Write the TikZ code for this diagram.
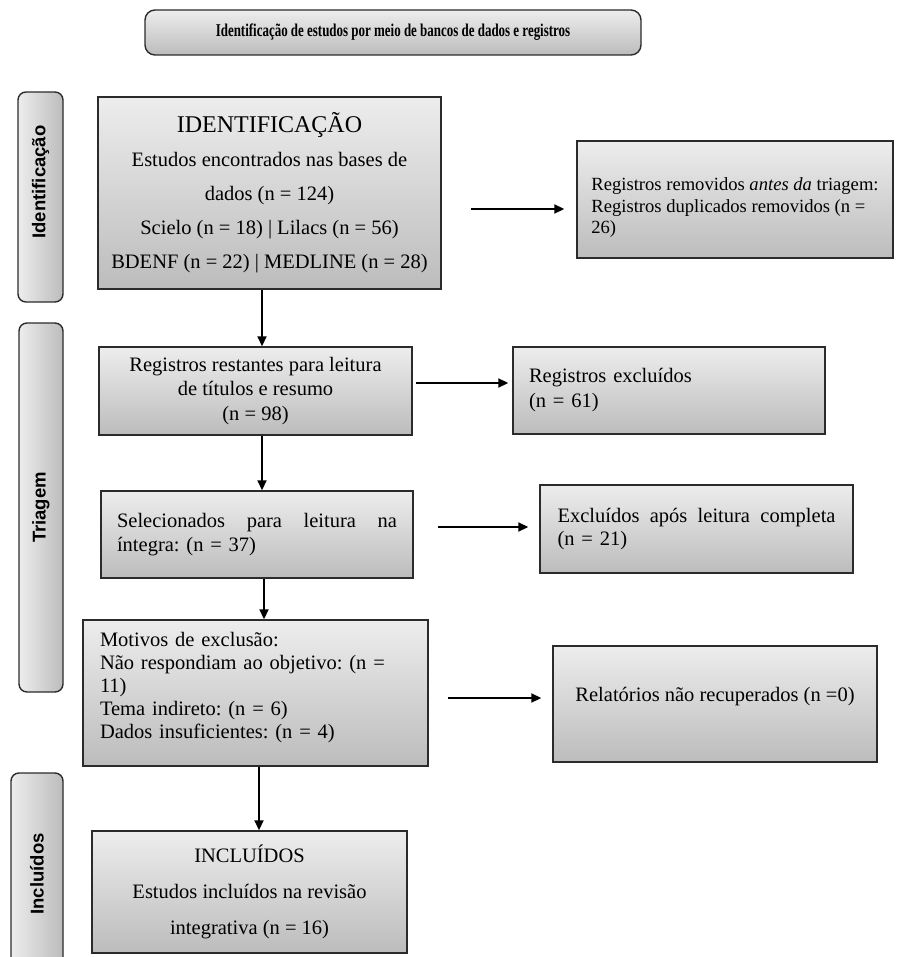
\documentclass[tikz,border=0pt]{standalone}
\usepackage{fontspec}
\setmainfont{Liberation Serif}
\newfontfamily\rotulofont{Liberation Sans}
\newfontfamily\faixafont[FakeStretch=0.72]{Liberation Serif}
\usetikzlibrary{arrows.meta}
\definecolor{cinzatopo}{HTML}{EDEDED}
\definecolor{cinzabase}{HTML}{BCBCBC}
\definecolor{borda}{HTML}{2B2B2B}
\frenchspacing

\begin{document}
\begin{tikzpicture}[x=1pt, y=-1pt,
    caixa/.style={rectangle, draw=borda, line width=1.4pt, top color=cinzatopo, bottom color=cinzabase, inner sep=0pt, font=\fontsize{20.5}{23.5}\selectfont},
    fase/.style={rectangle, rounded corners=8pt, draw=borda, line width=1.4pt, left color=cinzatopo, right color=cinzabase, inner sep=0pt, font=\rotulofont\bfseries\fontsize{18.5}{21}\selectfont},
    seta/.style={-{Triangle[length=10pt,width=9pt]}, line width=1.8pt}]
    \useasboundingbox (0,0) rectangle (896,957);

    \node at (393,32.5) [caixa, rounded corners=10pt, minimum width=496pt, minimum height=45pt, font=\faixafont\bfseries\fontsize{18}{21}\selectfont] (banner) {Identificação de estudos por meio de bancos de dados e registros};

    \node at (40.5,197) [fase, minimum width=45pt, minimum height=210pt] (fident) {\rotatebox{90}{\hspace*{30pt}Identificação}};
    \node at (41,507.5) [fase, minimum width=44pt, minimum height=369pt] (ftri) {\rotatebox{90}{Triagem}};
    \node at (37,874) [fase, minimum width=52pt, minimum height=202pt] (fincl) {\rotatebox{90}{Incluídos}};

    \node at (269.5,193) [caixa, minimum width=343pt, minimum height=192pt, align=center, font=\fontsize{20.5}{34}\selectfont] (ident) {{\fontsize{24}{28}\selectfont IDENTIFICAÇÃO}\\ Estudos encontrados nas bases de\\ dados (n = 124)\\ Scielo (n = 18) | Lilacs (n = 56)\\ BDENF (n = 22) | MEDLINE (n = 28)};
    \node at (735,199.5) [caixa, minimum width=316pt, minimum height=117pt, align=left, font=\fontsize{18.6}{21.5}\selectfont] (rem) {\mbox{}\\[8pt]Registros removidos \textit{antes da} triagem:\\ Registros duplicados removidos (n =\\ 26)};

    \node at (255.5,391) [caixa, minimum width=313pt, minimum height=88pt, align=center, font=\fontsize{20.5}{24.5}\selectfont] (rest) {Registros restantes para leitura\\ de títulos e resumo\\ (n = 98)};
    \node at (669,390.5) [caixa, minimum width=312pt, minimum height=87pt, text width=280pt, align=left, font=\fontsize{20.5}{25}\selectfont] (excl) {Registros excluídos\\ (n = 61)};

    \node at (257,534.5) [caixa, minimum width=312pt, minimum height=87pt, text width=280pt, align=left] (sel) {Selecionados\hfill para\hfill leitura\hfill na\\ íntegra: (n = 37)};
    \node at (696.5,529) [caixa, minimum width=313pt, minimum height=88pt, text width=278pt, align=left] (exap) {Excluídos\hfill após\hfill leitura\hfill completa\\ (n = 21)};

    \node at (255.5,693) [caixa, minimum width=345pt, minimum height=146pt, text width=311pt, align=left, font=\fontsize{20.5}{23}\selectfont] (mot) {Motivos de exclusão:\\ Não respondiam ao objetivo: (n =\\ 11)\\ Tema indireto: (n = 6)\\ Dados insuficientes: (n = 4)\\[-8pt]\mbox{}};
    \node at (715,704) [caixa, minimum width=324pt, minimum height=116pt, align=center] (rel) {Relatórios não recuperados (n =0)\\[-4pt]\mbox{}};

    \node at (249.5,892) [caixa, minimum width=315pt, minimum height=122pt, align=center, font=\fontsize{20.5}{36}\selectfont] (incl) {INCLUÍDOS\\ Estudos incluídos na revisão\\ integrativa (n = 16)};

    \draw[seta] ([xshift=-7.5pt]ident.south) -- ([xshift=6.5pt]rest.north);
    \draw[seta] ([xshift=6.5pt]rest.south) -- ([xshift=5pt]sel.north);
    \draw[seta] ([xshift=7pt]sel.south) -- ([xshift=8.5pt]mot.north);
    \draw[seta] ([xshift=3.5pt]mot.south) -- ([xshift=9.5pt]incl.north);

    \draw[seta] ([xshift=29pt,yshift=-16pt]ident.east) -- ([xshift=-12pt,yshift=-9.5pt]rem.west);
    \draw[seta] ([xshift=3pt,yshift=8pt]rest.east) -- ([xshift=-4pt,yshift=7.5pt]excl.west);
    \draw[seta] ([xshift=24pt,yshift=7.5pt]sel.east) -- ([xshift=-11pt,yshift=2pt]exap.west);
    \draw[seta] ([xshift=19pt,yshift=-5pt]mot.east) -- ([xshift=-11pt,yshift=6pt]rel.west);
\end{tikzpicture}
\end{document}
